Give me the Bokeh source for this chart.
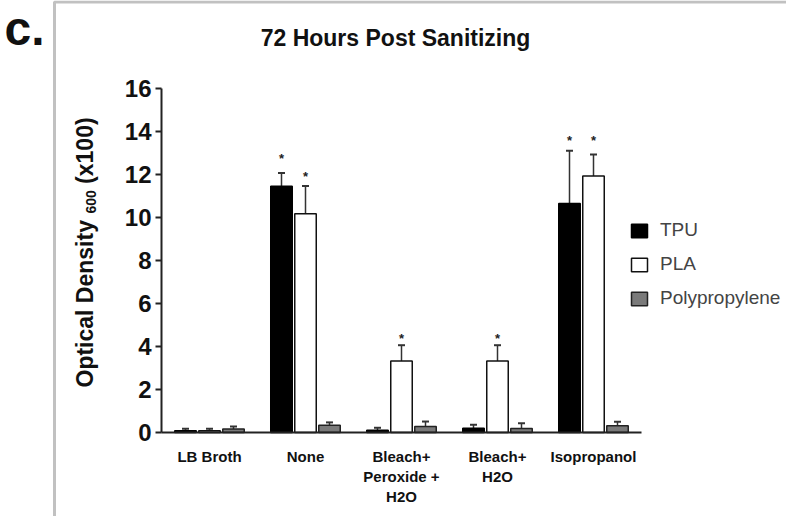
import math
from bokeh.plotting import figure
from bokeh.models import (Range1d, ColumnDataSource, Whisker, TeeHead, Label, LinearAxis,
                          PolyAnnotation, Legend, LegendItem, FixedTicker)
from bokeh.core.properties import value
from bokeh.embed import file_html
from bokeh.resources import INLINE

# ---------------- data ----------------
categories = ["LB Broth", "None", "Bleach+\nPeroxide +\nH2O", "Bleach+\nH2O", "Isopropanol"]
series = ["TPU", "PLA", "Polypropylene"]
tpu = [0.08, 11.45, 0.11, 0.20, 10.65]
tpu_err = [0.10, 0.62, 0.11, 0.16, 2.45]
pla = [0.08, 10.17, 3.32, 3.32, 11.93]
pla_err = [0.09, 1.30, 0.74, 0.74, 1.00]
pp = [0.16, 0.34, 0.28, 0.19, 0.31]
pp_err = [0.12, 0.13, 0.23, 0.24, 0.19]
# significance asterisks (height in data units, NaN = none)
star_tpu = [float("nan"), 12.75, float("nan"), float("nan"), 13.6]
star_pla = [float("nan"), 11.9, 4.38, 4.38, 13.6]
y_ticks = [0, 2, 4, 6, 8, 10, 12, 14, 16]
title_text = "72 Hours Post Sanitizing"

FONT = "Liberation Sans"

# ---------------- layout constants (pixels) ----------------
W, H = 786, 516
FL, FR, FT, FB = 161, 641, 88, 432        # where the axes box sits on the canvas
YMAX = 16
ppx = (FR - FL) / len(categories)         # px per category
ppy = (FB - FT) / YMAX                    # px per y unit

centers = [i + 0.5 for i in range(len(categories))]
BW = 0.224
OFF = 0.25

src = ColumnDataSource(dict(
    xc=centers,
    xt=[c - OFF for c in centers], xl=centers, xp=[c + OFF for c in centers],
    tpu=tpu, tpu_hi=[a + b for a, b in zip(tpu, tpu_err)],
    pla=pla, pla_hi=[a + b for a, b in zip(pla, pla_err)],
    pp=pp, pp_hi=[a + b for a, b in zip(pp, pp_err)],
    star_tpu=star_tpu, star_pla=star_pla,
    star=["*"] * len(categories),
))

p = figure(width=W, height=H,
           x_range=Range1d(-FL / ppx, (W - FL) / ppx),
           y_range=Range1d(-(H - FB) / ppy, YMAX + FT / ppy),
           x_axis_type=None, y_axis_type=None,
           output_backend="svg", toolbar_location=None, min_border=0)
p.outline_line_color = None
p.grid.visible = False
p.background_fill_color = "white"
p.border_fill_color = "white"

rt = p.vbar(x="xt", top="tpu", width=BW, source=src,
            fill_color="black", line_color="black", line_width=1.5)
rl = p.vbar(x="xl", top="pla", width=BW, source=src,
            fill_color="white", line_color="#111111", line_width=1.5)
rp = p.vbar(x="xp", top="pp", width=BW, source=src,
            fill_color="#7a7a7a", line_color="#222222", line_width=1.5)

for xcol, lo, hi in [("xt", "tpu", "tpu_hi"), ("xl", "pla", "pla_hi"), ("xp", "pp", "pp_hi")]:
    w = Whisker(base=xcol, lower=lo, upper=hi, source=src,
                dimension="height", lower_head=None,
                upper_head=TeeHead(size=7, line_width=2, line_color="#333333"),
                line_color="#333333", line_width=1.5)
    p.add_layout(w)

for xcol, col in [("xt", "star_tpu"), ("xl", "star_pla")]:
    p.text(x=xcol, y=col, text="star", source=src,
           text_align="center", text_baseline="middle", text_font=value(FONT),
           text_font_size="13px", text_font_style="bold", text_color="#222222")

# axes drawn at the data origin, bounded to the data extent
ya = LinearAxis(fixed_location=0, bounds=(0, YMAX), ticker=FixedTicker(ticks=y_ticks))
ya.minor_tick_line_color = None
ya.axis_line_width = 2
ya.axis_line_color = "#222222"
ya.major_tick_line_width = 2
ya.major_tick_line_color = "#222222"
ya.major_tick_out = 6
ya.major_tick_in = 0
ya.major_label_text_font = FONT
ya.major_label_text_font_size = "24px"
ya.major_label_text_font_style = "bold"
ya.major_label_text_color = "#111111"
ya.major_label_standoff = 4
p.add_layout(ya, "left")

xa = LinearAxis(fixed_location=0, bounds=(0, len(categories)),
                ticker=FixedTicker(ticks=centers),
                major_label_overrides={c: lab for c, lab in zip(centers, categories)})
xa.axis_line_width = 2
xa.axis_line_color = "#222222"
xa.major_tick_line_color = None
xa.minor_tick_line_color = None
xa.major_label_text_font = FONT
xa.major_label_text_font_size = "15px"
xa.major_label_text_font_style = "bold"
xa.major_label_text_color = "#111111"
xa.major_label_standoff = 9
p.add_layout(xa, "below")

# legend
legend = Legend(items=[LegendItem(label=series[0], renderers=[rt]),
                       LegendItem(label=series[1], renderers=[rl]),
                       LegendItem(label=series[2], renderers=[rp])],
                location=(629, 207), glyph_width=20, glyph_height=17,
                label_text_font=FONT, label_text_font_size="19px",
                label_standoff=11, spacing=12, padding=0, margin=0,
                border_line_alpha=0, background_fill_alpha=0)
p.add_layout(legend)

# title, panel letter, y label pieces (screen units; frame == canvas)
def lab(text, x, y, size, bold=True, angle=0.0, align="left"):
    p.add_layout(Label(x=x, y=y, x_units="screen", y_units="screen", text=text,
                       text_font=FONT, text_font_size=size,
                       text_font_style="bold" if bold else "normal",
                       text_color="#111111", angle=angle, text_align=align,
                       text_baseline="middle"))

lab(title_text, 395, H - 37, "23px", align="center")
lab("c.", 4, H - 28, "48px")
lab("Optical Density", 84, 129, "23px", angle=math.pi / 2)
lab("600", 90.5, 303, "14px", angle=math.pi / 2)
lab("(x100)", 84, 332.6, "23px", angle=math.pi / 2)

# figure border (top and left edges visible)
p.add_layout(PolyAnnotation(xs=[54, 3000, 3000, 54], ys=[H - 1.5, H - 1.5, -3000, -3000],
                            xs_units="screen", ys_units="screen",
                            fill_alpha=0, line_color="#333333", line_width=3))

open("out.html", "w").write(file_html(p, INLINE))
